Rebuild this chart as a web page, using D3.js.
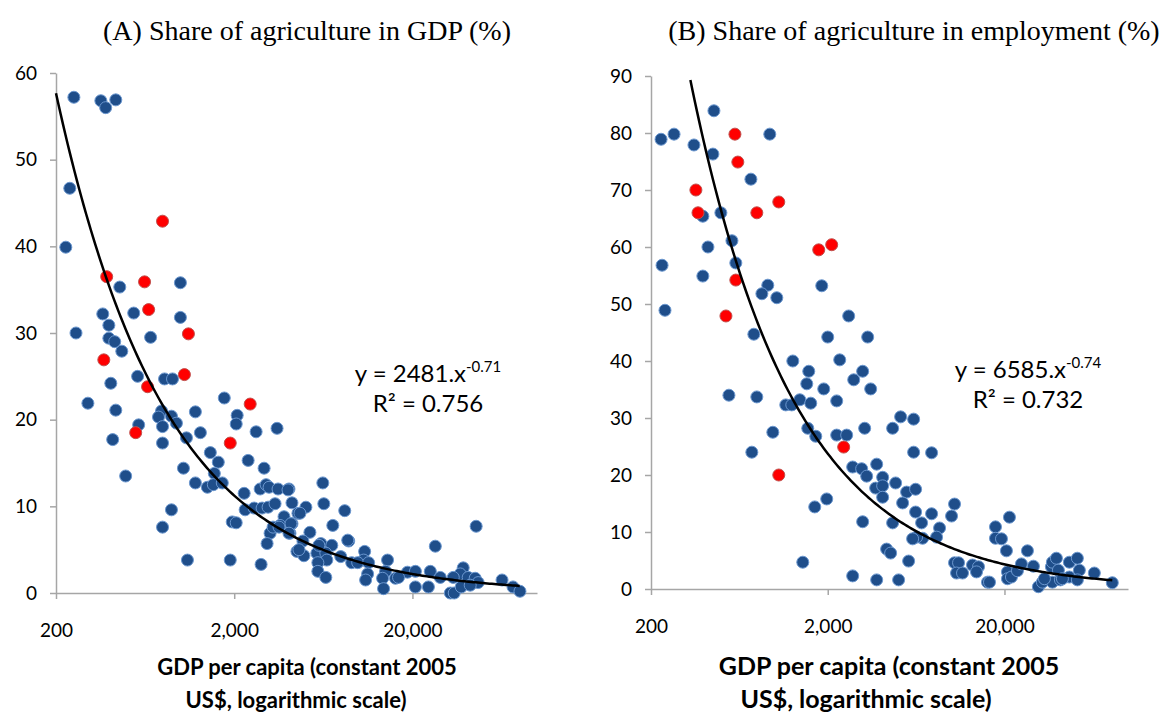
<!DOCTYPE html>
<html>
<head>
<meta charset="utf-8">
<script src="https://cdn.jsdelivr.net/npm/d3@7"></script>
<style>
  html, body { margin: 0; padding: 0; background: #fff; }
  svg { display: block; }
  .tick text { font-family: Lato, "Open Sans", sans-serif; font-size: 19px; fill: #000; }
</style>
</head>
<body>
<svg id="chart" width="1174" height="713"></svg>
<script>
// ---- Data: [GDP per capita (constant 2005 US$), share (%)] ----
const gdpShareBlue = [
  [252,57.2],[357,56.8],[380,56.0],[433,56.9],[239,46.7],[227,39.9],[259,30.0],[366,32.2],[396,30.9],[396,29.4],
  [427,29.0],[468,27.9],[546,32.3],[679,29.5],[998,31.8],[998,35.8],[456,35.3],[302,21.9],[406,24.2],[433,21.1],
  [416,17.7],[492,13.5],[574,25.0],[582,19.4],[813,24.7],[901,24.7],[782,21.0],[752,20.3],[792,19.2],[889,20.4],
  [948,19.6],[792,17.3],[1079,17.9],[1211,20.9],[1292,18.5],[1038,14.4],[792,7.6],[889,9.6],[1093,3.8],[1211,12.7],
  [1469,16.2],[1628,15.1],[1547,13.8],[1414,12.2],[1527,12.5],[1714,12.7],[1759,22.5],[2078,20.5],[2052,19.5],[2654,18.6],
  [3478,19.0],[2394,15.3],[2942,14.4],[2274,11.5],[1949,8.2],[2052,8.1],[1900,3.8],[2830,3.3],[2304,9.6],[2587,9.8],
  [2867,9.8],[3098,9.9],[3390,10.3],[2796,12.0],[3019,12.5],[3138,12.2],[3523,12.0],[4058,12.0],[4218,10.4],[3806,8.8],
  [3615,7.8],[4218,8.0],[3179,6.9],[3058,5.7],[4110,6.9],[4498,4.8],[4557,9.2],[6283,12.7],[5050,9.9],[6365,10.3],
  [8340,9.5],[3304,7.6],[5317,7.0],[7148,7.8],[8782,6.0],[4860,6.0],[6124,5.7],[7056,5.5],[4922,4.3],[5818,4.6],
  [6531,4.6],[7922,4.2],[6616,3.8],[5894,3.5],[5894,2.5],[6531,1.8],[10786,4.8],[10648,3.8],[9126,3.5],[9858,3.5],
  [11356,3.5],[11210,2.2],[10926,1.5],[14502,3.8],[14134,2.5],[13600,1.7],[16070,1.7],[13774,0.5],[18754,2.4],[20780,2.5],
  [20780,0.7],[24580,0.7],[25200,2.5],[26880,5.4],[28660,1.8],[32620,0.0],[34320,0.0],[38540,2.9],[37080,2.2],[33900,1.8],
  [41100,1.8],[44980,1.7],[46740,1.2],[37560,0.7],[42180,0.9],[45560,7.7],[63660,1.5],[73340,0.7],[80240,0.2],[16706,1.8],
  [4007,11.9],[4676,9.2],[4164,8.0],[3569,7.6],[4058,6.9],[8670,6.1],[4616,5.0],[5970,5.5]
];
const gdpShareRed = [
  [385,36.5],[371,26.9],[628,35.9],[662,32.7],[792,42.9],[653,23.8],[560,18.5],[1051,25.2],[1107,29.9],[1900,17.3],[2458,21.8]
];
const empShareBlue = [
  [228,78.9],[270,79.8],[350,77.9],[454,83.9],[448,76.3],[735,71.9],[940,79.8],[497,66.0],[393,65.4],[574,61.1],
  [420,60.0],[604,57.2],[231,56.8],[393,54.9],[916,53.3],[848,51.8],[1030,51.1],[1850,53.2],[240,48.9],[2628,47.9],
  [764,44.7],[2000,44.2],[3366,44.2],[552,34.0],[794,33.7],[744,24.0],[978,27.5],[1269,40.0],[1562,38.2],[1522,36.0],
  [1899,35.1],[2338,40.2],[2806,36.7],[3152,38.2],[3500,35.1],[1158,32.3],[1252,32.3],[1390,33.2],[1603,32.6],[2248,33.0],
  [1542,28.2],[1711,26.8],[2248,27.0],[2560,27.0],[3236,28.2],[1689,14.4],[1974,15.8],[3152,11.8],[1445,4.7],[2768,2.3],
  [3784,1.6],[3784,21.9],[2768,21.4],[3112,21.1],[3322,19.8],[3734,17.7],[5170,30.2],[4658,28.2],[6124,29.8],[6124,24.0],
  [7740,23.9],[4090,19.6],[4090,18.1],[4844,18.6],[5590,17.0],[6284,17.5],[4090,16.1],[5306,15.1],[6284,13.5],[7740,13.2],
  [6794,11.6],[4658,11.6],[10436,14.9],[10038,12.8],[8586,10.7],[8256,9.1],[6884,8.9],[6366,9.1],[6044,8.8],[17794,10.9],
  [17794,8.9],[4308,7.0],[4540,6.3],[5738,4.9],[10436,4.6],[10994,4.6],[10712,2.8],[11580,2.8],[13188,4.2],[14260,3.9],
  [13894,3.0],[16034,1.2],[5036,1.6],[21340,12.6],[19236,8.8],[20520,6.7],[20800,3.0],[20800,1.8],[21900,2.1],[23680,3.2],
  [24940,4.4],[26980,6.7],[29160,4.0],[31120,0.4],[32780,1.2],[36860,3.9],[37340,4.7],[39340,5.4],[37340,1.2],[40380,3.3],
  [41440,1.6],[46580,2.1],[46580,4.7],[51700,5.4],[53060,3.3],[51700,1.6],[64480,2.8],[81500,1.1],[16456,1.2],[33660,1.8],
  [42540,1.8]
];
const empShareRed = [
  [597,79.8],[620,74.9],[359,70.0],[369,66.0],[794,66.0],[1057,67.9],[604,54.2],[531,47.9],[1779,59.5],[2106,60.4],[1057,20.0],[2462,24.9]
];

// Axis ticks
const xTicks = [200, 2000, 20000];
const yTicksGdp = [0, 10, 20, 30, 40, 50, 60];
const yTicksEmp = [0, 10, 20, 30, 40, 50, 60, 70, 80, 90];

// Power-law trend lines y = a * x^b
const trendGdp = { a: 2481, b: -0.71, r2: "0.756" };
const trendEmp = { a: 6585, b: -0.74, r2: "0.732" };

const titles = ["(A) Share of agriculture in GDP (%)", "(B) Share of agriculture in employment (%)"];
const xTitle = ["GDP per capita (constant 2005", "US$, logarithmic scale)"];

// ---- Drawing ----
const svg = d3.select("#chart");
const fmt = d3.format(",");
const sans = "Lato, 'Open Sans', sans-serif";

function drawPanel(opt) {
  const g = svg.append("g");
  const x = d3.scaleLog().domain([200, 100000]).range([opt.left, opt.right]);
  const y = d3.scaleLinear().domain([0, opt.yMax]).range([opt.bottom, opt.top]);

  // panel title
  g.append("text")
    .attr("x", opt.titleX).attr("y", 40)
    .attr("text-anchor", "middle")
    .style("font-family", "'Liberation Serif', 'Times New Roman', serif")
    .style("font-size", "28px")
    .text(opt.title);

  // axes
  const ya = g.append("g")
    .attr("transform", `translate(${opt.left},0)`)
    .call(d3.axisLeft(y).tickValues(opt.yTicks).tickSize(6).tickSizeOuter(0).tickPadding(13));
  const xa = g.append("g")
    .attr("transform", `translate(0,${opt.bottom})`)
    .call(d3.axisBottom(x).tickValues(xTicks).tickFormat(fmt).tickSize(6).tickSizeOuter(0).tickPadding(25));
  [ya, xa].forEach(a => {
    a.select(".domain").attr("stroke", "#a6a6a6").attr("stroke-width", 1.5);
    a.selectAll(".tick line").attr("stroke", "#a6a6a6").attr("stroke-width", 1.5);
  });

  // x axis title, two lines
  xTitle.forEach((t, i) => {
    g.append("text")
      .attr("x", opt.xTitleX[i]).attr("y", 675 + i * 33)
      .attr("text-anchor", "middle")
      .style("font-family", sans)
      .style("font-weight", "bold")
      .style("font-size", opt.xTitleSize + "px")
      .text(t);
  });

  // markers
  const dots = g.append("g");
  dots.selectAll("circle.blue").data(opt.blue).join("circle")
    .attr("class", "blue")
    .attr("cx", d => x(d[0])).attr("cy", d => y(d[1])).attr("r", 6)
    .attr("fill", "#1f4e8a").attr("stroke", "#6b97cf").attr("stroke-width", 1);
  dots.selectAll("circle.red").data(opt.red).join("circle")
    .attr("class", "red")
    .attr("cx", d => x(d[0])).attr("cy", d => y(d[1])).attr("r", 6)
    .attr("fill", "#ff0000").attr("stroke", "#c0504d").attr("stroke-width", 1);

  // trend line, cut at the top of the value axis
  const lf = Math.log(opt.trendFrom), lt = Math.log(opt.trendTo);
  const pts = d3.range(0, 201)
    .map(i => Math.exp(lf + (lt - lf) * i / 200))
    .map(v => [v, opt.trend.a * Math.pow(v, opt.trend.b)])
    .filter(p => p[1] <= opt.yMax);
  g.append("path")
    .datum(pts)
    .attr("fill", "none").attr("stroke", "#000").attr("stroke-width", 2.5)
    .attr("d", d3.line().x(d => x(d[0])).y(d => y(d[1])));

  // equation label
  const eq = g.append("text")
    .attr("x", opt.eqX).attr("y", opt.eqY)
    .attr("text-anchor", "middle")
    .style("font-family", sans)
    .style("font-size", "24px");
  eq.append("tspan").text(`y = ${opt.trend.a}.x`);
  eq.append("tspan").attr("dy", -10).style("font-size", "15px").text(opt.trend.b.toFixed(2));
  g.append("text")
    .attr("x", opt.eqX).attr("y", opt.eqY + 30)
    .attr("text-anchor", "middle")
    .style("font-family", sans)
    .style("font-size", "24px")
    .text(`R² = ${opt.trend.r2}`);
}

drawPanel({
  left: 56, right: 537, top: 73, bottom: 593, yMax: 60, yTicks: yTicksGdp,
  blue: gdpShareBlue, red: gdpShareRed, trend: trendGdp, trendFrom: 200, trendTo: 80000,
  title: titles[0], titleX: 307,
  xTitleSize: 22, xTitleX: [307, 296],
  eqX: 428, eqY: 382
});
drawPanel({
  left: 651, right: 1128, top: 76, bottom: 589, yMax: 90, yTicks: yTicksEmp,
  blue: empShareBlue, red: empShareRed, trend: trendEmp, trendFrom: 228, trendTo: 81500,
  title: titles[1], titleX: 914,
  xTitleSize: 25, xTitleX: [889, 866],
  eqX: 1028, eqY: 378
});
</script>
</body>
</html>
